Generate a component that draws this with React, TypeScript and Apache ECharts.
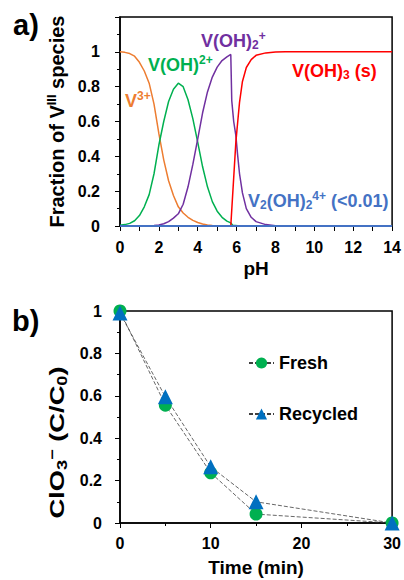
import React, { useEffect, useRef } from 'react';
import * as echarts from 'echarts';

const FONT = '"Liberation Sans", Arial, Helvetica, sans-serif';

// ---- Panel a) speciation of V(III) ----
const pHLow = [0, 0.25, 0.5, 0.75, 1, 1.25, 1.5, 1.75, 2, 2.25, 2.5, 2.75, 3, 3.25, 3.5, 3.75, 4, 4.25, 4.5, 4.75, 5, 5.25, 5.5, 5.7];
const v3plus = [1.0, 0.997, 0.99, 0.975, 0.94, 0.89, 0.82, 0.7, 0.53, 0.38, 0.26, 0.175, 0.11, 0.075, 0.05, 0.032, 0.02, 0.011, 0.006, 0.003, 0.001, 0, 0, 0];
const vOH2plus = [0.004, 0.008, 0.015, 0.03, 0.06, 0.11, 0.18, 0.3, 0.465, 0.6, 0.715, 0.785, 0.82, 0.8, 0.725, 0.615, 0.48, 0.34, 0.225, 0.14, 0.085, 0.05, 0.028, 0.018];
const vOH2Low = [0, 0, 0, 0, 0, 0, 0.001, 0.003, 0.006, 0.013, 0.025, 0.045, 0.07, 0.125, 0.225, 0.355, 0.5, 0.65, 0.77, 0.855, 0.912, 0.95, 0.971, 0.985];
const pHTailOrange = [14];
const v3plusTail = [0];
const pHTailGreen = [5.8, 6.2, 14];
const vOH2plusTail = [0.004, 0, 0];
const pHHigh = [5.75, 5.85, 5.96, 6.05, 6.15, 6.3, 6.5, 6.75, 7, 7.5, 8, 8.5, 14];
const vOH2High = [0.72, 0.6, 0.52, 0.41, 0.3, 0.19, 0.1, 0.05, 0.025, 0.008, 0.002, 0, 0];
const pHRed = [0, 5.7, 5.96, 6.05, 6.15, 6.3, 6.5, 6.75, 7, 7.5, 8, 8.5, 14];
const vOH3s = [0, 0, 0.48, 0.59, 0.71, 0.83, 0.91, 0.955, 0.98, 0.994, 0.999, 1, 1];
const pHBlue = [0, 2, 4, 6, 8, 10, 12, 14];
const v2OH2 = [0, 0, 0, 0, 0, 0, 0, 0];

// ---- Panel b) chlorate reduction ----
const timeMin = [0, 5, 10, 15, 30];
const fresh = [1.0, 0.556, 0.237, 0.042, 0];
const recycled = [0.99, 0.595, 0.265, 0.1, 0];

const zip = (xs: number[], ys: number[]) => xs.map((x, i) => [x, ys[i]]);

const COLORS = {
  orange: '#ED7D31',
  green: '#00B050',
  purple: '#7030A0',
  red: '#FF0000',
  blue: '#4472C4',
  freshMk: '#00B050',
  recMk: '#0070C0',
};

const richStyles = (size: number, small: number, up: number, down: number) => ({
  n: { font: `bold ${size}px ${FONT}` },
  sup: { font: `bold ${small}px ${FONT}`, padding: [0, 0, up, 0] },
  sub: { font: `bold ${small}px ${FONT}`, padding: [down, 0, 0, 0] },
});

const label = (x: number, y: number, fill: string, text: string) => ({
  type: 'text',
  x,
  y,
  z: 100,
  style: {
    text,
    fill,
    align: 'left',
    verticalAlign: 'middle',
    font: `bold 18px ${FONT}`,
    rich: richStyles(18, 12, 10, 8),
  },
});

export default function App() {
  const ref = useRef<HTMLDivElement>(null);
  useEffect(() => {
    document.body.style.margin = '0';
    document.documentElement.style.overflow = 'hidden';
    document.body.style.overflow = 'hidden';
    if (!ref.current) return;
    const chart = echarts.init(ref.current, null, { renderer: 'svg' });
    const axisLine = { show: true, onZero: false, lineStyle: { color: '#000', width: 1.5 } };
    const tick = { show: true, length: 5, lineStyle: { color: '#000', width: 1 } };
    const minor = { show: true, splitNumber: 2, length: 3, lineStyle: { color: '#000', width: 1 } };
    const lbl = { fontSize: 16, fontWeight: 'bold', color: '#000', fontFamily: FONT };
    const nameStyle = { fontSize: 19, fontWeight: 'bold', color: '#000', fontFamily: FONT };
    const lineS = (name: string, xs: number[], ys: number[], color: string) => ({
      name,
      type: 'line',
      xAxisIndex: 0,
      yAxisIndex: 0,
      data: zip(xs, ys),
      symbol: 'none',
      lineStyle: { color, width: 1.5 },
      itemStyle: { color },
    });
    const option: any = {
      animation: false,
      textStyle: { fontFamily: FONT },
      grid: [
        { left: 120, top: 17, width: 274, height: 209, show: true, borderColor: '#000', borderWidth: 1.5, backgroundColor: 'transparent' },
        { left: 120, top: 311, width: 274, height: 212, show: true, borderColor: '#000', borderWidth: 1.5, backgroundColor: 'transparent' },
      ],
      xAxis: [
        {
          type: 'value', gridIndex: 0, min: 0, max: 14, interval: 1,
          axisLine, axisTick: tick, splitLine: { show: false },
          axisLabel: { ...lbl, margin: 13, formatter: (v: number) => (Math.round(v) % 2 === 0 ? String(v) : '') },
          name: 'pH', nameLocation: 'middle', nameGap: 33, nameTextStyle: nameStyle,
        },
        {
          type: 'value', gridIndex: 1, min: 0, max: 30, interval: 10,
          axisLine, axisTick: tick, minorTick: minor, splitLine: { show: false }, minorSplitLine: { show: false },
          axisLabel: { ...lbl, margin: 12 },
          name: 'Time (min)', nameLocation: 'middle', nameGap: 35, nameTextStyle: nameStyle,
        },
      ],
      yAxis: [
        {
          type: 'value', gridIndex: 0, min: 0, max: 1.2, interval: 0.2,
          axisLine, axisTick: tick, minorTick: minor, splitLine: { show: false }, minorSplitLine: { show: false },
          axisLabel: { ...lbl, margin: 20, formatter: (v: number) => (v > 1.01 ? '' : String(Math.round(v * 10) / 10)) },
        },
        {
          type: 'value', gridIndex: 1, min: 0, max: 1, interval: 0.2,
          axisLine, axisTick: tick, minorTick: minor, splitLine: { show: false }, minorSplitLine: { show: false },
          axisLabel: { ...lbl, margin: 18, formatter: (v: number) => String(Math.round(v * 10) / 10) },
        },
      ],
      legend: {
        data: ['Fresh', 'Recycled'],
        orient: 'vertical',
        left: 243,
        top: 349,
        itemGap: 33,
        itemWidth: 25,
        itemHeight: 14,
        textStyle: { fontSize: 18, fontWeight: 'bold', color: '#000', fontFamily: FONT },
      },
      series: [
        lineS('V3+', pHLow.concat(pHTailOrange), v3plus.concat(v3plusTail), COLORS.orange),
        lineS('V(OH)2+', pHLow.concat(pHTailGreen), vOH2plus.concat(vOH2plusTail), COLORS.green),
        lineS('V(OH)2 +', pHLow.concat(pHHigh), vOH2Low.concat(vOH2High), COLORS.purple),
        lineS('V(OH)3(s)', pHRed, vOH3s, COLORS.red),
        { ...lineS('V2(OH)2 4+', pHBlue, v2OH2, COLORS.blue), lineStyle: { color: COLORS.blue, width: 2 } },
        {
          name: 'Fresh', type: 'line', xAxisIndex: 1, yAxisIndex: 1,
          data: zip(timeMin, fresh), symbol: 'circle', symbolSize: 13,
          itemStyle: { color: COLORS.freshMk },
          lineStyle: { color: '#404040', width: 0.8, type: [4, 2] },
          clip: false,
        },
        {
          name: 'Recycled', type: 'line', xAxisIndex: 1, yAxisIndex: 1,
          data: zip(timeMin, recycled), symbol: 'triangle', symbolSize: 15,
          itemStyle: { color: COLORS.recMk },
          lineStyle: { color: '#404040', width: 0.8, type: [4, 2] },
          clip: false,
        },
      ],
      graphic: [
        { type: 'text', x: 13, y: 25, z: 100, style: { text: 'a)', fill: '#000', font: `bold 29px ${FONT}`, verticalAlign: 'middle' } },
        { type: 'text', x: 12, y: 321, z: 100, style: { text: 'b)', fill: '#000', font: `bold 29px ${FONT}`, verticalAlign: 'middle' } },
        {
          type: 'text', x: 57, y: 121.5, rotation: Math.PI / 2, z: 100,
          style: {
            text: '{n|Fraction of V}{sup|III}{n| species}', fill: '#000',
            align: 'center', verticalAlign: 'middle', font: `bold 20px ${FONT}`,
            rich: richStyles(20, 13, 11, 9),
          },
        },
        {
          type: 'text', x: 57, y: 442.5, rotation: Math.PI / 2, scaleX: 1.3, z: 100,
          style: {
            text: '{n|ClO}{sub|3}{sup|−}{n| (C/C}{sub|0}{n|)}', fill: '#000',
            align: 'center', verticalAlign: 'middle', font: `bold 21px ${FONT}`,
            rich: richStyles(21, 14, 11, 9),
          },
        },
        label(125, 101, COLORS.orange, '{n|V}{sup|3+}'),
        label(148, 64.5, COLORS.green, '{n|V(OH)}{sup|2+}'),
        label(201, 41, COLORS.purple, '{n|V(OH)}{sub|2}{sup|+}'),
        label(292, 71, COLORS.red, '{n|V(OH)}{sub|3}{n| (s)}'),
        label(248, 201, COLORS.blue, '{n|V}{sub|2}{n|(OH)}{sub|2}{sup|4+}{n| (<0.01)}'),
      ],
    };
    chart.setOption(option);
    return () => chart.dispose();
  }, []);
  return <div ref={ref} style={{ width: 404, height: 580 }} />;
}
